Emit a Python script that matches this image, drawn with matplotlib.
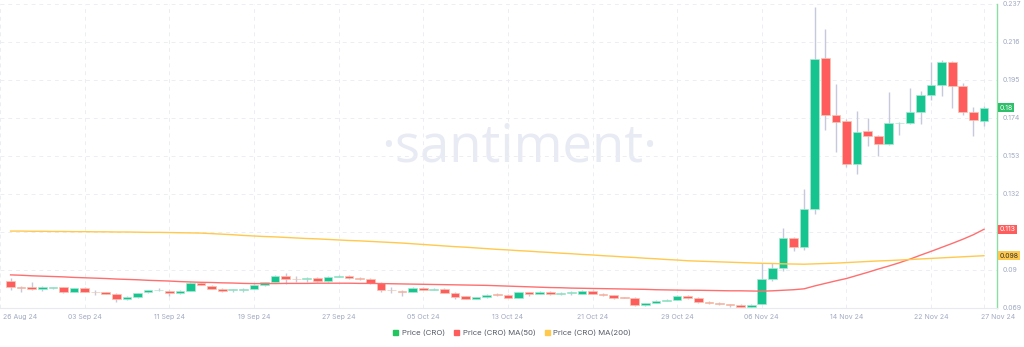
import matplotlib
matplotlib.use('Agg')
import matplotlib.pyplot as plt
import matplotlib.dates as mdates
from matplotlib.patches import Patch
from matplotlib.transforms import ScaledTranslation
import numpy as np
import pandas as pd

# 일별 캔들 데이터 (27 Aug 24 ~ 27 Nov 24)
dates = pd.date_range('2024-08-27', '2024-11-27', freq='D')

opens = [
    0.0841, 0.0808, 0.0807, 0.0796, 0.0801, 0.0805, 0.0779, 0.0801, 0.0780, 0.0777,
    0.0768, 0.0740, 0.0750, 0.0776, 0.0787, 0.0786, 0.0773, 0.0786, 0.0829, 0.0814,
    0.0796, 0.0788, 0.0790, 0.0797, 0.0819, 0.0834, 0.0869, 0.0852, 0.0849, 0.0856,
    0.0838, 0.0862, 0.0867, 0.0855, 0.0851, 0.0828, 0.0791, 0.0786, 0.0781, 0.0801,
    0.0792, 0.0796, 0.0775, 0.0755, 0.0742, 0.0750, 0.0766, 0.0762, 0.0747, 0.0777,
    0.0768, 0.0779, 0.0766, 0.0773, 0.0770, 0.0784, 0.0768, 0.0761, 0.0748, 0.0747,
    0.0707, 0.0718, 0.0731, 0.0736, 0.0757, 0.0746, 0.0724, 0.0720, 0.0711, 0.0707,
    0.0694, 0.0713, 0.0849, 0.0913, 0.1079, 0.1029, 0.1236, 0.2073, 0.1757, 0.1723,
    0.1484, 0.1668, 0.1642, 0.1595, 0.1711, 0.1711, 0.1775, 0.1867, 0.1921, 0.2048,
    0.1917, 0.1775, 0.1723]

closes = [
    0.0805, 0.0801, 0.0796, 0.0805, 0.0805, 0.0779, 0.0799, 0.0779, 0.0778, 0.0770,
    0.0740, 0.0753, 0.0772, 0.0788, 0.0792, 0.0773, 0.0786, 0.0829, 0.0818, 0.0797,
    0.0783, 0.0794, 0.0797, 0.0819, 0.0832, 0.0869, 0.0851, 0.0850, 0.0858, 0.0838,
    0.0862, 0.0869, 0.0855, 0.0851, 0.0828, 0.0790, 0.0789, 0.0781, 0.0801, 0.0792,
    0.0797, 0.0775, 0.0753, 0.0742, 0.0750, 0.0764, 0.0762, 0.0747, 0.0777, 0.0768,
    0.0779, 0.0766, 0.0773, 0.0774, 0.0784, 0.0768, 0.0761, 0.0747, 0.0746, 0.0707,
    0.0716, 0.0729, 0.0736, 0.0757, 0.0746, 0.0724, 0.0716, 0.0711, 0.0705, 0.0694,
    0.0707, 0.0849, 0.0913, 0.1075, 0.1029, 0.1236, 0.2064, 0.1757, 0.1720, 0.1484,
    0.1664, 0.1642, 0.1595, 0.1714, 0.1714, 0.1775, 0.1867, 0.1921, 0.2048, 0.1917,
    0.1775, 0.1731, 0.1797]

highs = [
    0.0856, 0.0814, 0.0834, 0.0809, 0.0808, 0.0806, 0.0802, 0.0805, 0.0788, 0.0780,
    0.0771, 0.0756, 0.0775, 0.0791, 0.0799, 0.0789, 0.0789, 0.0832, 0.0832, 0.0818,
    0.0799, 0.0797, 0.0800, 0.0822, 0.0835, 0.0872, 0.0881, 0.0866, 0.0861, 0.0860,
    0.0865, 0.0874, 0.0870, 0.0860, 0.0854, 0.0831, 0.0805, 0.0789, 0.0804, 0.0804,
    0.0800, 0.0803, 0.0778, 0.0758, 0.0753, 0.0769, 0.0771, 0.0765, 0.0780, 0.0780,
    0.0783, 0.0782, 0.0776, 0.0784, 0.0788, 0.0788, 0.0771, 0.0764, 0.0752, 0.0751,
    0.0720, 0.0732, 0.0740, 0.0760, 0.0760, 0.0749, 0.0727, 0.0723, 0.0714, 0.0710,
    0.0710, 0.0937, 0.0937, 0.1132, 0.1082, 0.1348, 0.2352, 0.2230, 0.1928, 0.1735,
    0.1779, 0.1742, 0.1645, 0.1882, 0.1718, 0.1904, 0.1889, 0.2048, 0.2061, 0.2057,
    0.1932, 0.1801, 0.1806]

lows = [
    0.0790, 0.0779, 0.0790, 0.0784, 0.0797, 0.0773, 0.0776, 0.0776, 0.0762, 0.0766,
    0.0724, 0.0735, 0.0746, 0.0773, 0.0783, 0.0757, 0.0770, 0.0783, 0.0815, 0.0793,
    0.0780, 0.0780, 0.0779, 0.0794, 0.0812, 0.0831, 0.0825, 0.0835, 0.0834, 0.0834,
    0.0835, 0.0859, 0.0851, 0.0847, 0.0824, 0.0776, 0.0772, 0.0758, 0.0778, 0.0789,
    0.0789, 0.0772, 0.0742, 0.0737, 0.0737, 0.0746, 0.0759, 0.0743, 0.0744, 0.0755,
    0.0765, 0.0762, 0.0763, 0.0762, 0.0766, 0.0765, 0.0758, 0.0737, 0.0743, 0.0701,
    0.0702, 0.0715, 0.0727, 0.0733, 0.0742, 0.0720, 0.0713, 0.0708, 0.0698, 0.0691,
    0.0691, 0.0710, 0.0841, 0.0893, 0.1007, 0.1012, 0.1208, 0.1674, 0.1554, 0.1471,
    0.1429, 0.1587, 0.1530, 0.1592, 0.1646, 0.1708, 0.1705, 0.1840, 0.1863, 0.1797,
    0.1757, 0.1641, 0.1696]

ma50 = [
    0.0873, 0.0871, 0.0868, 0.0866, 0.0864, 0.0862, 0.0859, 0.0857, 0.0855, 0.0853,
    0.0850, 0.0848, 0.0846, 0.0843, 0.0841, 0.0839, 0.0836, 0.0834, 0.0832, 0.0831,
    0.0829, 0.0828, 0.0826, 0.0825, 0.0825, 0.0825, 0.0826, 0.0826, 0.0826, 0.0827,
    0.0827, 0.0827, 0.0827, 0.0826, 0.0826, 0.0825, 0.0824, 0.0823, 0.0822, 0.0821,
    0.0820, 0.0819, 0.0818, 0.0817, 0.0816, 0.0815, 0.0813, 0.0811, 0.0809, 0.0807,
    0.0805, 0.0803, 0.0802, 0.0800, 0.0799, 0.0798, 0.0797, 0.0796, 0.0795, 0.0794,
    0.0793, 0.0791, 0.0790, 0.0789, 0.0788, 0.0788, 0.0787, 0.0786, 0.0785, 0.0785,
    0.0784, 0.0783, 0.0785, 0.0788, 0.0791, 0.0796, 0.0812, 0.0826, 0.0840, 0.0853,
    0.0870, 0.0887, 0.0905, 0.0922, 0.0940, 0.0960, 0.0982, 0.1003, 0.1025, 0.1047,
    0.1070, 0.1095, 0.1125]

ma200 = [
    0.1115, 0.1115, 0.1114, 0.1114, 0.1113, 0.1113, 0.1112, 0.1112, 0.1111, 0.1111,
    0.1110, 0.1110, 0.1109, 0.1108, 0.1108, 0.1107, 0.1106, 0.1105, 0.1104, 0.1101,
    0.1098, 0.1095, 0.1091, 0.1088, 0.1085, 0.1083, 0.1080, 0.1077, 0.1074, 0.1072,
    0.1069, 0.1066, 0.1063, 0.1061, 0.1058, 0.1055, 0.1052, 0.1049, 0.1045, 0.1041,
    0.1037, 0.1033, 0.1029, 0.1026, 0.1022, 0.1018, 0.1014, 0.1011, 0.1007, 0.1004,
    0.1000, 0.0997, 0.0993, 0.0990, 0.0986, 0.0983, 0.0979, 0.0976, 0.0972, 0.0969,
    0.0965, 0.0962, 0.0958, 0.0955, 0.0951, 0.0949, 0.0947, 0.0945, 0.0943, 0.0941,
    0.0939, 0.0937, 0.0936, 0.0934, 0.0933, 0.0932, 0.0934, 0.0936, 0.0938, 0.0941,
    0.0944, 0.0947, 0.0950, 0.0952, 0.0955, 0.0958, 0.0961, 0.0964, 0.0967, 0.0970,
    0.0973, 0.0976, 0.0979]

y_ticks = [0.069, 0.09, 0.111, 0.132, 0.153, 0.174, 0.195, 0.216, 0.237]
y_labels = ['0.069', '0.09', '0.111', '0.132', '0.153', '0.174', '0.195', '0.216', '0.237']

x_tick_dates = ['2024-08-26', '2024-09-03', '2024-09-11', '2024-09-19', '2024-09-27',
                '2024-10-05', '2024-10-13', '2024-10-21', '2024-10-29', '2024-11-06',
                '2024-11-14', '2024-11-22', '2024-11-27']
x_labels = ['26 Aug 24', '03 Sep 24', '11 Sep 24', '19 Sep 24', '27 Sep 24',
            '05 Oct 24', '13 Oct 24', '21 Oct 24', '29 Oct 24', '06 Nov 24',
            '14 Nov 24', '22 Nov 24', '27 Nov 24']

series_names = ['Price (CRO)', 'Price (CRO) MA(50)', 'Price (CRO) MA(200)']

GREEN = '#16c490'
RED = '#ff5d5d'
YELLOW = '#ffc94d'
WICK = '#c6c9dc'
TXT = '#a2aac2'

plt.rcParams['font.family'] = ['Inter', 'DejaVu Sans']

fig = plt.figure(figsize=(10.24, 3.47), dpi=100)
ax = fig.add_axes([0, 39 / 347, 997 / 1024, 304 / 347])

# 워터마크
ax.text(519 / 1024, 1 - 148 / 347, '\u00b7santiment\u00b7', transform=fig.transFigure,
        fontsize=38, color='#e9ebf4', ha='center', va='center',
        family=['Open Sans', 'DejaVu Sans'], zorder=0)

x = mdates.date2num(dates)
o = np.array(opens)
c = np.array(closes)
up = c >= o
bottom = np.minimum(o, c)
height = np.maximum(np.abs(c - o), 0.0003)

ax.vlines(x, lows, highs, color=WICK, lw=1, zorder=2)
ax.bar(x[up], height[up], bottom=bottom[up], width=0.82, color=GREEN,
       edgecolor='#a9e9cf', lw=0.5, zorder=3)
ax.bar(x[~up], height[~up], bottom=bottom[~up], width=0.82, color=RED,
       edgecolor='#f3c7b0', lw=0.5, zorder=3)

ax.plot(x, ma50, color='#ff6f6f', lw=1, zorder=4)
ax.plot(x, ma200, color=YELLOW, lw=1, zorder=4)

ax.set_xlim(mdates.date2num(pd.Timestamp('2024-08-26')),
            mdates.date2num(pd.Timestamp('2024-11-27')) + 1.23)
ax.set_ylim(0.069, 0.237)

ax.yaxis.tick_right()
ax.set_yticks(y_ticks)
ax.set_yticklabels(y_labels)
ax.set_xticks(mdates.date2num(pd.to_datetime(x_tick_dates)))
ax.set_xticklabels(x_labels)
ax.tick_params(axis='both', length=0, labelsize=5, colors=TXT)
ax.tick_params(axis='y', pad=4)
ax.tick_params(axis='x', pad=4)

# 첫/마지막 날짜 라벨은 가장자리에 맞춤
xt = ax.get_xticklabels()
xt[0].set_ha('left')
xt[0].set_transform(xt[0].get_transform() + ScaledTranslation(3 / 100, 0, fig.dpi_scale_trans))
xt[-1].set_ha('left')
xt[-1].set_transform(xt[-1].get_transform() + ScaledTranslation(-3 / 100, 0, fig.dpi_scale_trans))

ax.grid(color='#eceef4', ls=(0, (4, 4)), lw=0.7, zorder=0)
ax.set_axisbelow(True)
for s in ['top', 'left']:
    ax.spines[s].set_visible(False)
ax.spines['bottom'].set_color('#e8eaf0')
ax.spines['right'].set_color('#8cdca6')
ax.spines['right'].set_linewidth(1)

# 오른쪽 값 태그 (0.111 눈금 라벨은 원본처럼 0.113 태그 밑에 가려짐)
tags = [(closes[-1], '0.18', '#2dbf6a', 'white'),
        (ma50[-1], '0.113', RED, 'white'),
        (ma200[-1], '0.098', YELLOW, '#333333')]
for val, lab, fc, tc in tags:
    ax.text(1.0025, val, lab, transform=ax.get_yaxis_transform(), fontsize=5,
            color=tc, ha='left', va='center', clip_on=False, zorder=6,
            bbox=dict(boxstyle='square,pad=0.25', fc=fc, ec='none'))

handles = [Patch(color='#22c55e'), Patch(color=RED), Patch(color=YELLOW)]
fig.legend(handles, series_names, loc='center', bbox_to_anchor=(512 / 1024, 1 - 333 / 347),
           ncol=3, frameon=False, fontsize=5.6, handlelength=0.7, handleheight=0.7,
           handletextpad=0.4, columnspacing=1.2, labelcolor='#555a66')

fig.savefig('out.png', dpi=100)
